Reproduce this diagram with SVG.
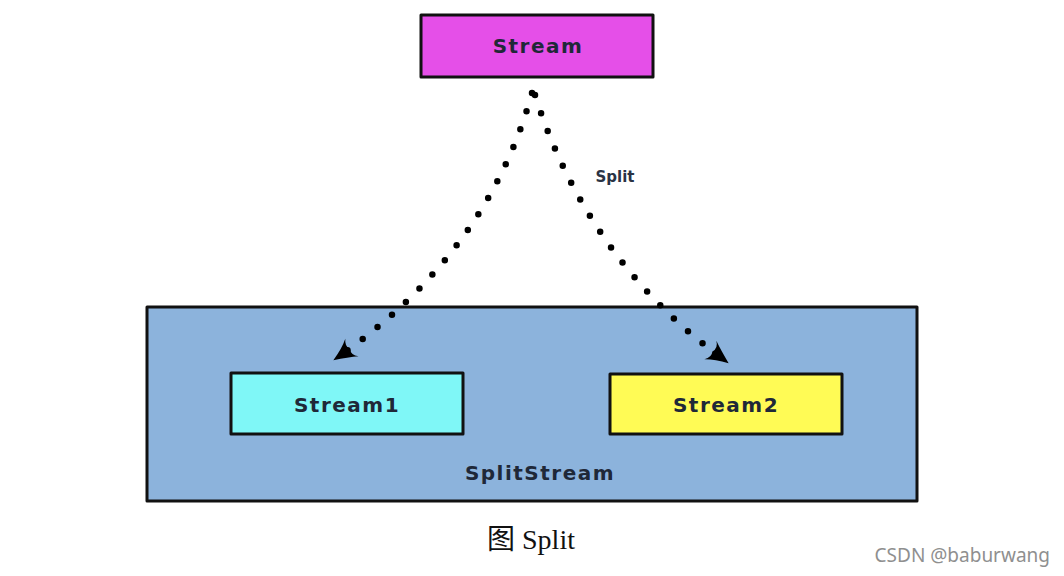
<svg xmlns="http://www.w3.org/2000/svg" width="1064" height="576" viewBox="0 0 1064 576">
<style>
.box{stroke:#111;stroke-width:3;stroke-linejoin:round}
.lbl{font-family:"DejaVu Sans",sans-serif;font-weight:bold;font-size:20px;fill:#1f2838;text-anchor:middle;letter-spacing:1.5px}
.dots{fill:none;stroke:#000;stroke-width:6.5;stroke-linecap:round;stroke-dasharray:0 19}
</style>
<defs>
<marker id="ah" viewBox="0 0 24 24" refX="21" refY="12" markerWidth="24" markerHeight="24" markerUnits="userSpaceOnUse" orient="auto">
<path d="M0,1 Q9,6 23,12 Q9,17 1,23 Q6,17 3,12 Q6,6 0,1 Z" fill="#000"/>
</marker>
</defs>
<rect width="1064" height="576" fill="#fff"/>
<g id="splitstream">
<rect class="box" x="147" y="307" width="770" height="194" fill="#8cb3dc"/>
<text class="lbl" x="540" y="480">SplitStream</text>
</g>
<g id="stream">
<rect class="box" x="421" y="15" width="232" height="62" fill="#e54fe8"/>
<text class="lbl" x="538" y="53">Stream</text>
</g>
<g id="stream1">
<rect class="box" x="231" y="373" width="232" height="61" fill="#7ff7f7"/>
<text class="lbl" x="347" y="412">Stream1</text>
</g>
<g id="stream2">
<rect class="box" x="610" y="374" width="232" height="60" fill="#fffb55"/>
<text class="lbl" x="726" y="412">Stream2</text>
</g>
<g id="connectors">
<path class="dots" d="M532,93 Q487,255 335,359" marker-end="url(#ah)"/>
<path class="dots" d="M535,95 Q588,262 727,362" marker-end="url(#ah)"/>
<text x="615" y="182" font-family="DejaVu Sans,sans-serif" font-weight="bold" font-size="15" fill="#2a3345" text-anchor="middle">Split</text>
</g>
<text x="531" y="549" font-family="Liberation Serif,'Noto Sans CJK SC',serif" font-size="28" fill="#111" text-anchor="middle">图 Split</text>
<text x="1050" y="562" font-family="'Noto Sans',sans-serif" font-size="19" fill="#8f8f8f" text-anchor="end">CSDN @baburwang</text>
</svg>
